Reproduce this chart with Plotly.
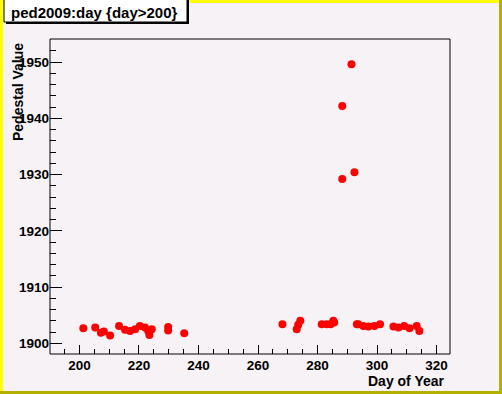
import plotly.graph_objects as go

# ---- data ----
days = [201.3, 205.3, 207.2, 208.2, 210.3, 213.3, 215.3, 217.0, 218.7, 220.3,
        222.0, 223.1, 223.5, 224.3, 229.8, 229.8, 235.2, 268.2, 273.0, 273.5,
        274.2, 281.4, 283.1, 284.4, 285.3, 285.6, 288.3, 288.3, 291.4, 292.4,
        293.2, 293.7, 295.4, 297.1, 299.1, 301.0, 305.5, 307.2, 309.1, 310.9,
        313.3, 314.2]
values = [1902.7, 1902.8, 1901.9, 1902.1, 1901.4, 1903.1, 1902.4, 1902.2, 1902.5, 1903.1,
          1902.8, 1902.2, 1901.5, 1902.5, 1902.9, 1902.3, 1901.8, 1903.4, 1902.5, 1903.3,
          1904.0, 1903.4, 1903.4, 1903.4, 1904.0, 1903.7, 1942.2, 1929.2, 1949.6, 1930.4,
          1903.4, 1903.4, 1903.1, 1903.0, 1903.1, 1903.4, 1903.0, 1902.8, 1903.1, 1902.7,
          1903.1, 1902.2]
x_ticks = [200, 220, 240, 260, 280, 300, 320]
y_ticks = [1900, 1910, 1920, 1930, 1940, 1950]
title_text = "ped2009:day {day>200}"
x_title = "Day of Year"
y_title = "Pedestal Value"

W, H = 502, 394
L, R, T, B = 50, 52, 39, 40
PW, PH = W - L - R, H - T - B


def px(x):
    return (x - L) / PW


def py(y):
    return 1 - (y - T) / PH


FONT = "Liberation Sans"
BG = "#f6f2f6"

fig = go.Figure()
fig.add_trace(go.Scatter(
    x=days, y=values, mode="markers",
    marker=dict(color="#ff0000", size=8, line=dict(width=0)),
    showlegend=False, hoverinfo="x+y", cliponaxis=False))

axis_common = dict(
    showgrid=False, zeroline=False, ticks="inside", tickcolor="black",
    tickwidth=1, showline=False,
    tickfont=dict(family=FONT, size=13.5, color="black", weight="bold"),
)

fig.update_xaxes(range=[190.1, 324.5], tickvals=x_ticks,
                 ticktext=[str(v) for v in x_ticks], ticklen=9, ticklabelstandoff=1,
                 minor=dict(ticks="inside", dtick=5, ticklen=5, tickcolor="black", showgrid=False),
                 **axis_common)
fig.update_yaxes(range=[1898.1, 1954.1], tickvals=y_ticks,
                 ticktext=[str(v) for v in y_ticks], ticklen=12,
                 minor=dict(ticks="inside", dtick=2, ticklen=6, tickcolor="black", showgrid=False),
                 **axis_common)

shapes = []
# outer canvas border: yellow left/top, olive right/bottom
shapes.append(dict(type="rect", xref="paper", yref="paper", layer="below",
                   x0=px(0), x1=px(3), y0=py(H), y1=py(0), fillcolor="#ffff00", line=dict(width=0)))
shapes.append(dict(type="rect", xref="paper", yref="paper", layer="below",
                   x0=px(0), x1=px(W), y0=py(3), y1=py(0), fillcolor="#ffff00", line=dict(width=0)))
shapes.append(dict(type="rect", xref="paper", yref="paper", layer="below",
                   x0=px(W - 3), x1=px(W), y0=py(H), y1=py(0), fillcolor="#b4b000", line=dict(width=0)))
shapes.append(dict(type="rect", xref="paper", yref="paper", layer="below",
                   x0=px(0), x1=px(W), y0=py(H), y1=py(H - 3), fillcolor="#b4b000", line=dict(width=0)))
# frame
shapes.append(dict(type="rect", xref="paper", yref="paper", layer="above",
                   x0=0, x1=1, y0=0, y1=1, line=dict(color="black", width=1)))
# title box shadow + box
shapes.append(dict(type="rect", xref="paper", yref="paper",
                   x0=px(6), x1=px(189), y0=py(24), y1=py(-2), fillcolor="black", line=dict(width=0)))
shapes.append(dict(type="rect", xref="paper", yref="paper",
                   x0=px(4), x1=px(187), y0=py(22), y1=py(-2), fillcolor="white",
                   line=dict(color="black", width=1)))

annotations = [
    dict(text=title_text, xref="paper", yref="paper", x=px(9), y=py(12),
         xanchor="left", yanchor="middle", showarrow=False,
         font=dict(family=FONT, size=15, color="black", weight="bold")),
    dict(text=x_title, xref="paper", yref="paper", x=px(447), y=py(381),
         xanchor="right", yanchor="middle", showarrow=False,
         font=dict(family=FONT, size=14, color="black", weight="bold")),
    dict(text=y_title, xref="paper", yref="paper", x=px(18), y=py(41),
         xanchor="center", yanchor="top", textangle=-90, showarrow=False,
         font=dict(family=FONT, size=14, color="black", weight="bold")),
]

fig.update_layout(
    width=W, height=H, margin=dict(l=L, r=R, t=T, b=B, autoexpand=False),
    paper_bgcolor=BG, plot_bgcolor=BG,
    shapes=shapes, annotations=annotations, showlegend=False,
)

fig.write_html(
    "out.html",
    config={"displayModeBar": False},
    post_script="document.body.style.margin='0';document.body.style.padding='0';"
                "document.body.style.overflow='hidden';",
)
